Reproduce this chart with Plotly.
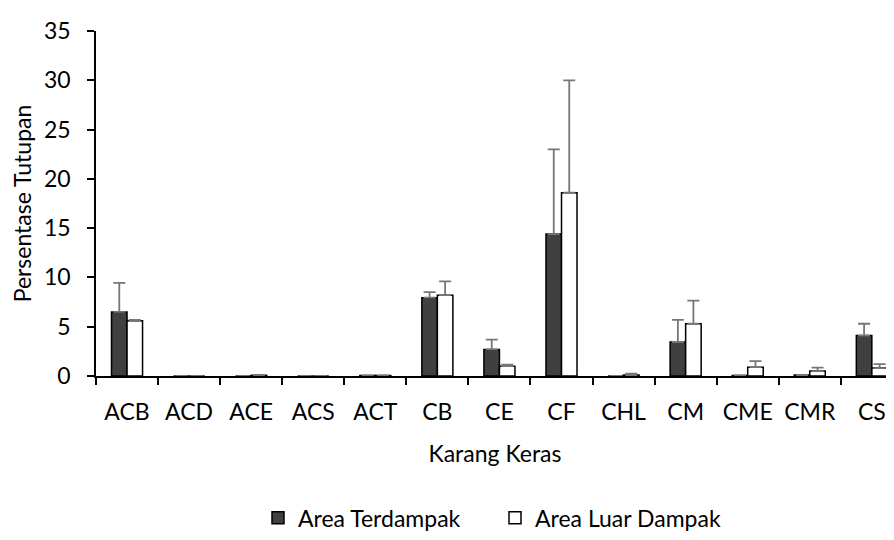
import plotly.graph_objects as go

categories = ["ACB", "ACD", "ACE", "ACS", "ACT", "CB", "CE", "CF", "CHL", "CM", "CME", "CMR", "CS"]

# mean cover (%) and upper error (+SD) for each area
terdampak = [6.5, 0, 0, 0, 0.05, 7.95, 2.7, 14.4, 0, 3.45, 0.05, 0.1, 4.1]
terdampak_err = [2.95, 0, 0, 0, 0.02, 0.55, 1.0, 8.6, 0, 2.25, 0, 0.02, 1.2]
luar_dampak = [5.6, 0, 0.07, 0, 0.05, 8.2, 1.0, 18.6, 0.1, 5.3, 0.9, 0.5, 0.8]
luar_dampak_err = [0.1, 0, 0.03, 0, 0.02, 1.4, 0.15, 11.4, 0.15, 2.35, 0.6, 0.35, 0.4]

font_family = "Lato, 'Open Sans', sans-serif"
font_size = 23
err_style = dict(type="data", symmetric=False, arrayminus=[0] * len(categories),
                 color="#767676", thickness=1.8, width=6)

fig = go.Figure()

fig.add_trace(go.Bar(
    x=categories, y=terdampak, name="Area Terdampak",
    marker=dict(color="#404040", line=dict(color="black", width=1.5)),
    error_y=dict(array=terdampak_err, **err_style),
))
fig.add_trace(go.Bar(
    x=categories, y=luar_dampak, name="Area Luar Dampak",
    marker=dict(color="white", line=dict(color="black", width=1.5)),
    error_y=dict(array=luar_dampak_err, **err_style),
))

# the page body adds an 8px offset, margins are shifted to compensate
fig.update_layout(
    width=894, height=540,
    margin=dict(l=84, r=8, t=12, b=170),
    barmode="group", bargap=0.5, bargroupgap=0,
    plot_bgcolor="white", paper_bgcolor="white",
    font=dict(family=font_family, size=font_size, color="black"),
    legend=dict(orientation="h", x=0.5, xanchor="center", y=-0.411, yanchor="middle",
                xref="paper", font=dict(size=font_size), itemwidth=30,
                entrywidth=192, traceorder="normal"),
)

fig.update_xaxes(
    range=[-0.5, 12.357], showline=True, linecolor="black", linewidth=1.5,
    ticks="outside", tickson="boundaries", ticklen=7, tickcolor="black", tickwidth=1.5,
    tickfont=dict(size=font_size), ticklabelstandoff=15,
    title=dict(text="Karang Keras", standoff=22, font=dict(size=font_size)),
    showgrid=False,
)
fig.update_yaxes(
    range=[0, 35], dtick=5, showline=True, linecolor="black", linewidth=1.5,
    ticks="outside", ticklen=7, tickcolor="black", tickwidth=1.5,
    tickfont=dict(size=font_size), ticklabelstandoff=12, ticklabeloverflow="allow",
    title=dict(text="Persentase Tutupan", standoff=12, font=dict(size=font_size)),
    showgrid=False, zeroline=False,
)

fig.write_html("out.html")
